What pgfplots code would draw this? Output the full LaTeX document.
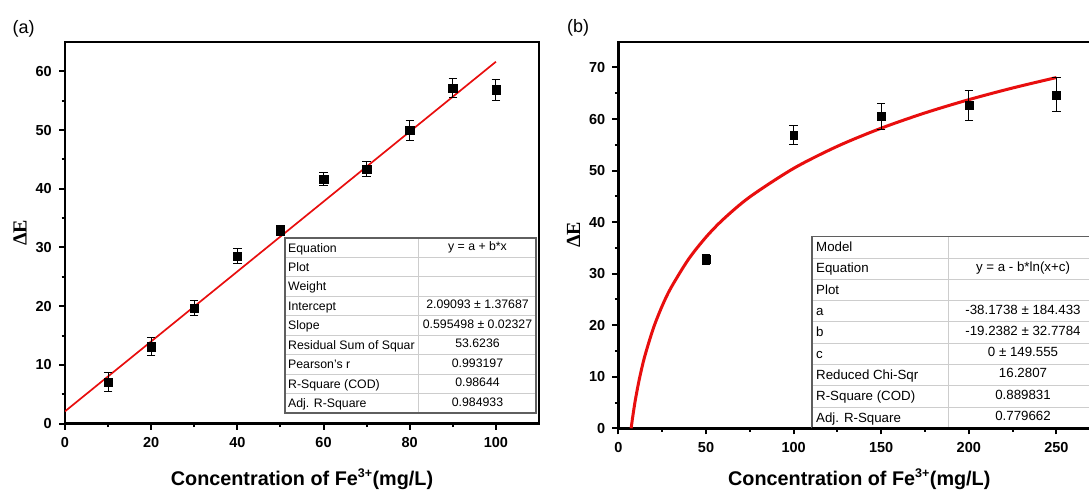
\documentclass[border=0pt]{standalone}
\usepackage{pgfplots}
\pgfplotsset{compat=1.18}
\usepackage{fontspec}
\setmainfont{Liberation Sans}
\newfontfamily\timesfont{Liberation Serif}
\definecolor{fitred}{RGB}{232,14,14}
\definecolor{gridgray}{RGB}{205,205,205}
\definecolor{boxgray}{RGB}{95,95,95}

\pgfplotsset{
 myaxis/.style={
  scale only axis, anchor=south west,
  axis line style={line width=2.4pt},
  tick pos=left, tick align=outside,
  major tick length=6pt, minor tick length=3.5pt,
  every tick/.style={black, line width=2pt},
  /pgf/number format/assume math mode=true,
  ticklabel style={font=\bfseries\fontsize{14.5}{16}\selectfont},
  xticklabel style={inner sep=0pt, anchor=north, yshift=-8pt},
  yticklabel style={inner sep=0pt, anchor=east, xshift=-7pt},
  xlabel style={font=\bfseries\fontsize{19.8}{22}\selectfont, at={(axis description cs:0.5,0)}, anchor=base, yshift=-61.5pt},
  ylabel style={font=\timesfont\bfseries\fontsize{20}{22}\selectfont, at={(axis description cs:0,0.5)}, anchor=center, yshift=45pt},
  xlabel={Concentration of Fe\textsuperscript{\fontsize{12.5}{13}\selectfont 3+}(mg/L)},
  ylabel={ΔE},
 },
 mypts/.style={black, only marks, mark=square*, mark size=#1,
  error bars/.cd, y dir=both, y explicit,
  error bar style={line width=1.1pt, black},
  error mark options={rotate=90, mark size=4.2pt, line width=1.1pt, black}},
}

\begin{document}
\begin{tikzpicture}
% ---------------- panel (a) ----------------
\begin{axis}[myaxis,
  at={(65pt,-423.6pt)}, width=474pt, height=381.6pt,
  xmin=0, xmax=110, ymin=0, ymax=65,
  xtick={0,20,...,100}, minor xtick={10,30,...,90},
  ytick={0,10,...,60}, minor ytick={5,15,...,55}]
\addplot[fitred, line width=1.7pt] coordinates {(0,2.09093) (100,61.64073)};
\addplot[mypts=4.2pt] coordinates {
 (10,7.1) +- (0,1.6)
 (20,13.1) +- (0,1.55)
 (30,19.7) +- (0,1.3)
 (40,28.5) +- (0,1.3)
 (50,32.9) +- (0,0.85)
 (60,41.6) +- (0,1.1)
 (70,43.35) +- (0,1.3)
 (80,49.95) +- (0,1.7)
 (90,57.15) +- (0,1.65)
 (100,56.85) +- (0,1.8)
};
\end{axis}

% ---------------- panel (b) ----------------
\begin{axis}[myaxis,
  at={(618.4pt,-428.3pt)}, width=481.8pt, height=386.6pt,
  xmin=0, xmax=275, ymin=0, ymax=75,
  xtick={0,50,...,250}, minor xtick={25,75,...,275},
  ytick={0,10,...,70}, minor ytick={5,15,...,65},
  xlabel style={yshift=4.5pt}]
\addplot[fitred, line width=3pt, smooth] coordinates {
 (7.27,0) (7.5,0.589) (8,1.831) (9,4.097) (10,6.124) (12,9.631) (15,13.924)
 (20,19.459) (25,23.752) (30,27.259) (40,32.794) (50,37.087) (60,40.594)
 (75,44.887) (100,50.421) (125,54.714) (150,58.222) (175,61.187)
 (200,63.756) (225,66.022) (250,68.049)};
\addplot[mypts=3.9pt] coordinates {
 (50,32.8) +- (0,1.0)
 (100,56.9) +- (0,1.8)
 (150,60.5) +- (0,2.6)
 (200,62.65) +- (0,2.9)
 (250,64.7) +- (0,3.3)
};
\end{axis}

% ---------------- tables and panel letters ----------------
\begin{scope}[x=1pt, y=-1pt]
 % table (a)
 \fill[white] (285,238) rectangle (536,413);
 \foreach \i in {1,...,8} \draw[gridgray, line width=0.8pt] (285,238+\i*19.444) -- (536,238+\i*19.444);
 \draw[gridgray, line width=0.8pt] (418,238) -- (418,413);
 \draw[boxgray, line width=1.1pt] (285,238) rectangle (536,413);
 \begin{scope}[font=\fontsize{12.3}{14}\selectfont]
 \foreach \lab [count=\i from 0] in {Equation, Plot, Weight, Intercept, Slope, Residual Sum of Squar, Pearson's r, R-Square (COD), Adj. R-Square}
   \node[anchor=base west, inner sep=0pt] at (288,238+\i*19.444+14) {\lab};
 \foreach \val [count=\i from 0] in {{y = a + b*x}, {}, {}, {2.09093 ± 1.37687}, {0.595498 ± 0.02327}, {53.6236}, {0.993197}, {0.98644}, {0.984933}}
   \node[anchor=base, inner sep=0pt] at (477.5,238+\i*19.444+12.5) {\val};
 \end{scope}
 % table (b)
 \fill[white] (812,236.7) rectangle (1100,428.3);
 \foreach \i in {1,...,8} \draw[gridgray, line width=0.8pt] (812,236.7+\i*21.289) -- (1100,236.7+\i*21.289);
 \draw[gridgray, line width=0.8pt] (948.3,236.7) -- (948.3,428.3);
 \draw[boxgray, line width=1.1pt] (812,428.3) -- (812,236.7) -- (1100,236.7);
 \begin{scope}[font=\fontsize{13.3}{15}\selectfont]
 \foreach \lab [count=\i from 0] in {Model, Equation, Plot, a, b, c, Reduced Chi-Sqr, R-Square (COD), Adj. R-Square}
   \node[anchor=base west, inner sep=0pt] at (816,236.7+\i*21.289+15) {\lab};
 \foreach \val [count=\i from 0] in {{}, {y = a - b*ln(x+c)}, {}, {-38.1738 ± 184.433}, {-19.2382 ± 32.7784}, {0 ± 149.555}, {16.2807}, {0.889831}, {0.779662}}
   \node[anchor=base, inner sep=0pt] at (1023,236.7+\i*21.289+13.5) {\val};
 \end{scope}
 % redraw bottom axis line of (b) over table
 \draw[black, line width=2.4pt] (812,428.3) -- (1100,428.3);
 % panel letters
 \node[anchor=base west, inner sep=0pt, font=\fontsize{18}{20}\selectfont] at (12.5,33) {(a)};
 \node[anchor=base west, inner sep=0pt, font=\fontsize{18}{20}\selectfont] at (567,32) {(b)};
\end{scope}
\pgfresetboundingbox
\useasboundingbox (0,0) rectangle (1089pt,-490pt);
\end{tikzpicture}
\end{document}
